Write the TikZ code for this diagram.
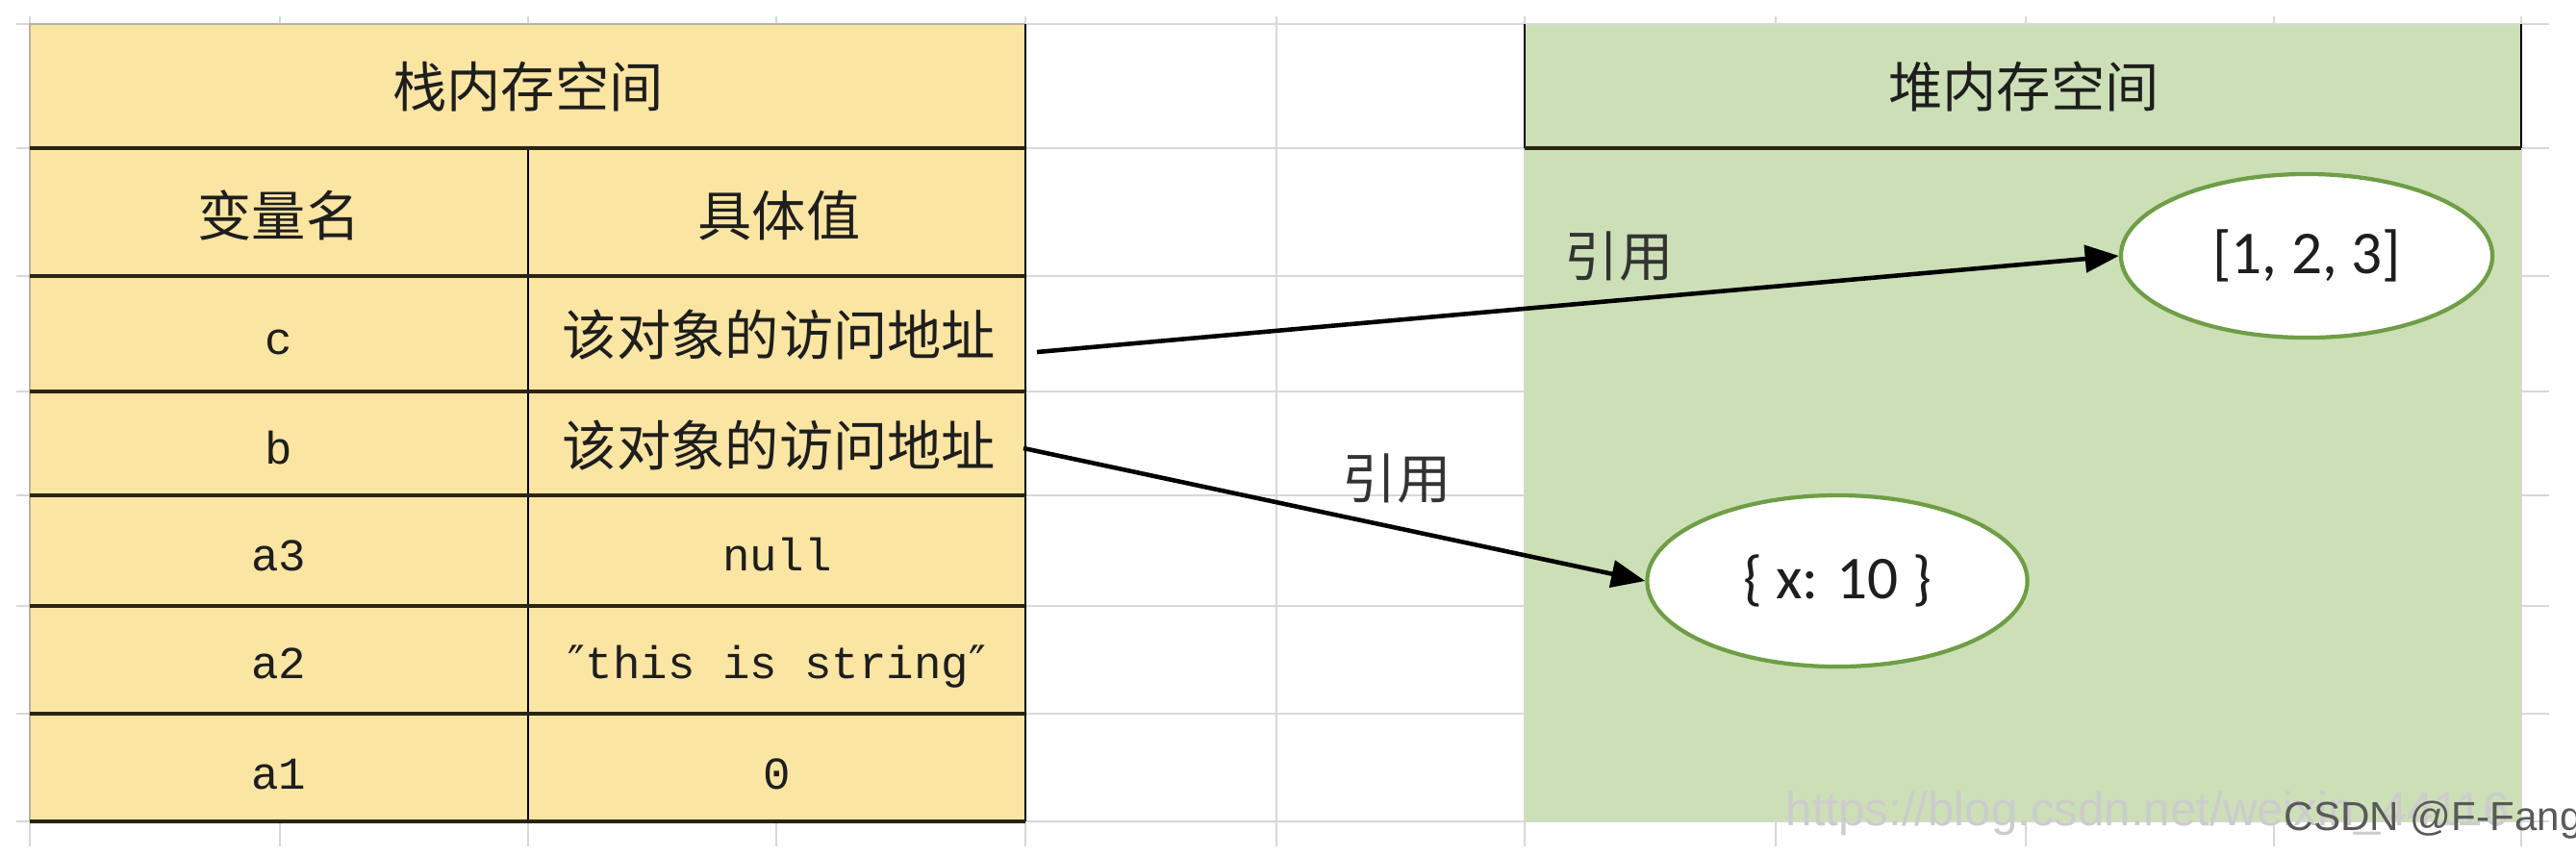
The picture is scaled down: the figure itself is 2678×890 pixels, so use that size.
\documentclass[tikz,border=0pt]{standalone}
\usepackage{fontspec}
\newfontfamily\cjk{Noto Sans CJK SC}
\newfontfamily\calfont{Carlito}
\newfontfamily\lmono{Liberation Mono}
\newfontfamily\lsans{Liberation Sans}
\newfontfamily\dvsans{DejaVu Sans}
\usetikzlibrary{shapes.geometric,arrows.meta}
\definecolor{stackfill}{HTML}{FAE5A2}
\definecolor{heapfill}{HTML}{CDDFB7}
\definecolor{gridgray}{HTML}{D8D8D8}
\definecolor{edgegray}{HTML}{B9B2A2}
\definecolor{ellgreen}{HTML}{6E9E45}
\definecolor{txt}{HTML}{1E1E1E}
\definecolor{sepdark}{HTML}{2A2412}
\newcommand{\dq}{{\dvsans ″}}
\begin{document}
\begin{tikzpicture}[x=0.01cm,y=-0.01cm,
  grid/.style={draw=gridgray,line width=0.6pt},
  thinsep/.style={draw=black,line width=0.55pt},
  thicksep/.style={draw=sepdark,line width=1.2pt},
  zh/.style={font=\cjk\fontsize{16}{19}\selectfont,text=txt,inner sep=0pt},
  mono/.style={font=\lmono\fontsize{13.5}{16}\selectfont,text=txt,inner sep=0pt,anchor=base},
  obj/.style={ellipse,draw=ellgreen,line width=1.2pt,fill=white,inner sep=0pt,font=\calfont\fontsize{18}{22}\selectfont,text=txt},
  ref/.style={-{Triangle[length=10pt,width=8pt]},line width=1.3pt,draw=black},
  lbl/.style={font=\cjk\fontsize{16}{19}\selectfont,text=black!80,inner sep=0pt}
]
\useasboundingbox (0,0) rectangle (2678,890);
\fill[white] (0,0) rectangle (2678,890);
% spreadsheet grid
\foreach \y in {25,154,287,407,515,630,742,854}
  \draw[grid] (17,\y) -- (2650,\y);
\foreach \x in {31,291,549,807,1066,1327,1585,1846,2106,2364,2621}
  \draw[grid] (\x,17) -- (\x,880);
% fills
\fill[stackfill] (31,25) rectangle (1066,854);
\fill[heapfill] (1585,25) rectangle (2621,854);
% stack table lines
\draw[draw=edgegray,line width=0.6pt] (31,854) -- (31,25) -- (1066,25);
\draw[thinsep] (1066,25) -- (1066,854);
\draw[thinsep] (549,154) -- (549,854);
\foreach \y in {154,287,407,515,630,742,854}
  \draw[thicksep] (31,\y) -- (1066,\y);
% heap header lines
\draw[grid] (1585,25) -- (2621,25);
\draw[thinsep] (1585,154) -- (1585,25);
\draw[thinsep] (2621,25) -- (2621,154);
\draw[thicksep] (1585,154) -- (2621,154);
% texts
\node[zh] (stackhead) at (549,90) {栈内存空间};
\node[zh] (heaphead) at (2104,90) {堆内存空间};
\node[zh] (namehead) at (290,224) {变量名};
\node[zh] (valhead) at (810,224) {具体值};
\node[mono] (nc) at (290,368) {c};
\node[mono] (nb) at (290,482) {b};
\node[mono] (na3) at (290,593) {a3};
\node[mono] (na2) at (290,705) {a2};
\node[mono] (na1) at (290,820) {a1};
\node[zh] (vc) at (810,348) {该对象的访问地址};
\node[zh] (vb) at (810,463) {该对象的访问地址};
\node[mono] (va3) at (808,593) {null};
\node[mono] (va2) at (808,705) {\dq this is string\dq};
\node[mono] (va1) at (808,820) {0};
% heap objects
\node[obj,minimum width=3.86cm,minimum height=1.70cm] (e1) at (2398,266) {[1, 2, 3]};
\node[obj,minimum width=3.95cm,minimum height=1.78cm] (e2) at (1910,604) {\{ x: 10 \}};
% references
\coordinate (s1) at (1078,366);
\coordinate (s2) at (1064,466);
\draw[ref] (s1) -- (e1.west);
\draw[ref] (s2) -- (e2.west);
\node[lbl] (r1) at (1683,267) {引用};
\node[lbl] (r2) at (1452,498) {引用};
% watermark
\node[anchor=base west,inner sep=0pt,font=\lsans\fontsize{14}{16}\selectfont,text=gray!40] (wm1) at (1856,858) {https://blog.csdn.net/weixin\_44116};
\node[anchor=base west,inner sep=0pt,font=\lsans\fontsize{12}{14}\selectfont,text=black!65] (wm2) at (2374,863) {CSDN @F-Fang};
\end{tikzpicture}
\end{document}
